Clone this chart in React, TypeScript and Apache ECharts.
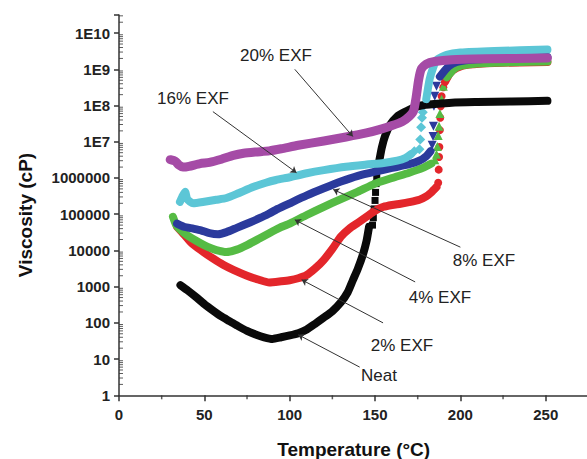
import React, { useEffect, useRef } from "react";
import * as echarts from "echarts";

type P = [number, number];

const xTickValues = [0, 50, 100, 150, 200, 250];
const xMinorTickValues = [25, 75, 125, 175, 225, 275];
const yDecadeLabels = ["1", "10", "100", "1000", "10000", "100000", "1000000", "1E7", "1E8", "1E9", "1E10"];
const yMinorMultipliers = [2, 3, 4, 5, 6, 7, 8, 9];

// Neat (black squares)
const neatLow: P[] = [[36,1100],[40,800],[45,520],[50,330],[55,220],[60,150],[65,110],[70,80],[75,60],[80,48],[85,40],[90,36],[95,40],[100,45],[105,52],[110,66],[115,95],[120,140],[125,210],[130,370],[134,700],[137,1500],[140,3200],[143,8000],[145,18000],[146.5,45000]];
const neatJump: P[] = [[148.5,5e4],[149,8e4],[149.5,1.4e5],[150,2.4e5],[150.3,4e5],[150.6,7e5],[151,1.1e6]];
const neatHigh: P[] = [[151.5,1.6e6],[152.5,3e6],[154,7e6],[156,1.5e7],[159,3e7],[163,5e7],[167,6.5e7],[172,8.5e7],[177,1e8],[185,1.1e8],[195,1.2e8],[210,1.25e8],[230,1.3e8],[251,1.35e8]];

// 2% EXF (red circles)
const exf2Low: P[] = [[34,45000],[38,28000],[42,17000],[47.5,10500],[55,6000],[61,4000],[67,2900],[75,2000],[82,1550],[88,1300],[95,1400],[100,1500],[105,1700],[110,2100],[115,3200],[120,5500],[125,11000],[130,24000],[135,40000],[140,58000],[145,85000],[150,125000],[155,160000],[160,180000],[165,195000],[170,215000],[176,250000],[180,310000],[183,400000],[186,560000]];
const exf2Jump: P[] = [[187,7.4e5],[187.3,1.7e6],[187.5,3.8e6],[187.7,7.2e6],[188,2.1e7],[188.2,4.6e7],[188.5,9.5e7],[189,1.8e8],[190,3.2e8]];
const exf2High: P[] = [[191,4.5e8],[194,8e8],[198,1.1e9],[205,1.35e9],[220,1.5e9],[251,1.6e9]];

// 4% EXF (green triangles)
const exf4Low: P[] = [[31.6,85000],[33.5,50000],[36,37000],[40,26000],[47.5,16000],[52,12500],[57,10200],[63,9000],[69,10500],[75,14000],[82,21000],[88,30000],[94,42000],[100,55000],[110,95000],[120,160000],[130,260000],[140,420000],[150,700000],[160,1.0e6],[170,1.4e6],[178,1.9e6],[183,2.5e6]];
const exf4Jump: P[] = [[185,3.2e6],[186,4.5e6],[186.5,7.4e6],[187,1.5e7],[187.5,2.7e7],[188,6e7],[189,1.5e8],[190,3.4e8]];
const exf4High: P[] = [[192,6e8],[196,1e9],[200,1.25e9],[210,1.45e9],[230,1.58e9],[251,1.65e9]];

// 8% EXF (blue inverted triangles)
const exf8Low: P[] = [[34,55000],[38,45000],[43.5,40000],[48,36000],[53,30000],[58,28000],[63,32000],[69,42000],[77,60000],[83,80000],[88,105000],[93,140000],[100,200000],[110,330000],[120,520000],[130,800000],[140,1.15e6],[150,1.5e6],[160,1.9e6],[170,2.4e6],[176,3e6],[180,4e6],[182.5,5.5e6]];
const exf8Jump: P[] = [[183.5,8e6],[184,1.4e7],[184.2,2.7e7],[184.5,9.5e7],[185,1.8e8],[186,3.4e8]];
const exf8High: P[] = [[188,6.3e8],[193,1.2e9],[198,1.6e9],[210,1.9e9],[230,2.05e9],[251,2.2e9]];

// 16% EXF (cyan diamonds)
const exf16Low: P[] = [[35.7,2.2e5],[37,3e5],[38.7,4.2e5],[40,2.6e5],[43.5,2e5],[50,2.2e5],[57,2.5e5],[63,2.8e5],[70,3.8e5],[78.5,5.6e5],[86,7.4e5],[92,8.8e5],[100,1.05e6],[110,1.35e6],[120,1.65e6],[133,2.05e6],[145,2.35e6],[155,2.6e6],[163,3e6],[168,3.6e6],[171,4.5e6]];
const exf16Jump: P[] = [[173,5.5e6],[176,6.2e6],[176.5,1.15e7],[177,2.5e7],[177.5,4.6e7],[178,6.5e7]];
const exf16High: P[] = [[180,1.5e8],[182,5.4e8],[184,1.1e9],[186,1.8e9],[192,2.5e9],[200,2.9e9],[220,3.2e9],[251,3.5e9]];

// 20% EXF (magenta)
const exf20: P[] = [[30,3.2e6],[33,2.9e6],[35,2.3e6],[37.5,2e6],[41,2.1e6],[47.5,2.5e6],[53,2.7e6],[60,3.3e6],[67,4.2e6],[73,4.8e6],[80,5.2e6],[88,5.6e6],[95,6.4e6],[105,8e6],[120,1.05e7],[133,1.35e7],[145,1.75e7],[153,2.2e7],[160,2.8e7],[166,3.6e7],[170,5e7],[172.5,7e7],[174,1.6e8],[175.5,5e8],[177,1e9],[180,1.4e9],[185,1.65e9],[195,1.85e9],[215,1.95e9],[251,2.05e9]];

// annotation arrows: label, arrow start, arrow end (data coords), label position (px)
const arrowLabels = ["20% EXF", "16% EXF", "8% EXF", "4% EXF", "2% EXF", "Neat"];
const arrowFrom: P[] = [[103,1e9],[55,6.8e7],[200,1.23e4],[173.5,1350],[154.7,100],[141,6]];
const arrowTo: P[] = [[137,1.4e7],[104,1.4e6],[125.5,4.8e5],[103,7e4],[107,1550],[105,47]];
const labelPos: P[] = [[276,55],[193,98],[484,260],[440,297],[402,345],[379,375]];

const FONT = "'Liberation Sans', Arial, Helvetica, sans-serif";
const Y_MAX = Math.pow(10, 10.5);

const COLORS = {
  neat: "#0a0a0a",
  red: "#e3262b",
  green: "#55bb44",
  blue: "#2b3a9c",
  cyan: "#5cc6d6",
  magenta: "#a54ba6",
};

function lineSeries(name: string, data: P[], color: string, width = 8) {
  return {
    name,
    type: "line",
    data,
    symbol: "none",
    showSymbol: false,
    smooth: 0.2,
    lineStyle: { color, width, cap: "round", join: "round" },
    itemStyle: { color },
    silent: true,
  };
}

function scatterSeries(name: string, data: P[], color: string, symbol: string, size: number) {
  return {
    name,
    type: "scatter",
    data,
    symbol,
    symbolSize: size,
    itemStyle: { color, opacity: 1 },
    silent: true,
  };
}

export default function App() {
  const ref = useRef<HTMLDivElement>(null);

  useEffect(() => {
    if (!ref.current) return;
    document.body.style.margin = "0";
    const chart = echarts.init(ref.current, undefined, { renderer: "svg" });

    const yMinorData: P[] = [];
    for (let k = 0; k <= 10; k++) {
      for (const m of yMinorMultipliers) {
        const v = m * Math.pow(10, k);
        if (v < Y_MAX) yMinorData.push([0, v]);
      }
    }
    const xMinorData: P[] = xMinorTickValues.map((x) => [x, 1] as P);

    const markLineData = arrowFrom.map((f, i) => [
      { coord: f, symbol: "none" },
      { coord: arrowTo[i], symbol: "arrow" },
    ]);

    const option: any = {
      animation: false,
      grid: { left: 119, top: 15, width: 469.4, height: 380.3, outerBoundsMode: "none", containLabel: false },
      xAxis: {
        type: "value",
        min: 0,
        max: 275,
        interval: 50,
        name: "Temperature (°C)",
        nameLocation: "middle",
        nameGap: 45,
        nameTextStyle: { fontFamily: FONT, fontSize: 19, fontWeight: "bold", color: "#111" },
        axisLine: { show: true, lineStyle: { color: "#333", width: 1.5 } },
        axisTick: { show: true, inside: false, length: 6, lineStyle: { color: "#333", width: 1.5 } },
        axisLabel: {
          margin: 12,
          fontFamily: FONT,
          fontSize: 15,
          fontWeight: "bold",
          color: "#222",
          formatter: (v: number) => (xTickValues.indexOf(v) >= 0 ? String(v) : ""),
        },
        splitLine: { show: false },
      },
      yAxis: {
        type: "log",
        logBase: 10,
        min: 1,
        max: Y_MAX,
        interval: 1,
        axisLine: { show: true, lineStyle: { color: "#333", width: 1.5 } },
        axisTick: { show: true, inside: false, length: 5, lineStyle: { color: "#333", width: 1.5 } },
        axisLabel: {
          margin: 9,
          fontFamily: FONT,
          fontSize: 15,
          fontWeight: "bold",
          color: "#222",
          formatter: (v: number) => {
            const l = Math.log10(v);
            const k = Math.round(l);
            if (Math.abs(l - k) > 1e-6 || k < 0 || k >= yDecadeLabels.length) return "";
            return yDecadeLabels[k];
          },
        },
        splitLine: { show: false },
      },
      graphic: [
        {
          type: "text",
          x: 25,
          y: 215,
          rotation: Math.PI / 2,
          style: {
            text: "Viscosity (cP)",
            fontFamily: FONT,
            fontSize: 19,
            fontWeight: "bold",
            fill: "#111",
            textAlign: "center",
            textVerticalAlign: "middle",
          },
        },
        ...arrowLabels.map((t, i) => ({
          type: "text",
          x: labelPos[i][0],
          y: labelPos[i][1],
          style: {
            text: t,
            fontFamily: FONT,
            fontSize: 17,
            fill: "#222",
            textAlign: "center",
            textVerticalAlign: "middle",
          },
        })),
      ],
      series: [
        {
          name: "yMinorTicks",
          type: "scatter",
          data: yMinorData,
          symbol: "rect",
          symbolSize: [4, 1],
          symbolOffset: [2, 0],
          clip: false,
          silent: true,
          itemStyle: { color: "#333" },
        },
        {
          name: "xMinorTicks",
          type: "scatter",
          data: xMinorData,
          symbol: "rect",
          symbolSize: [1.5, 4],
          symbolOffset: [0, 2],
          clip: false,
          silent: true,
          itemStyle: { color: "#333" },
        },
        lineSeries("Neat", neatLow, COLORS.neat),
        scatterSeries("Neat", neatJump, COLORS.neat, "rect", 7),
        lineSeries("Neat", neatHigh, COLORS.neat),
        lineSeries("2% EXF", exf2Low, COLORS.red),
        scatterSeries("2% EXF", exf2Jump, COLORS.red, "circle", 8),
        lineSeries("2% EXF", exf2High, COLORS.red),
        lineSeries("4% EXF", exf4Low, COLORS.green),
        scatterSeries("4% EXF", exf4Jump, COLORS.green, "triangle", 9),
        lineSeries("4% EXF", exf4High, COLORS.green),
        lineSeries("8% EXF", exf8Low, COLORS.blue),
        scatterSeries("8% EXF", exf8Jump, COLORS.blue, "path://M0,0L10,0L5,9Z", 9),
        lineSeries("8% EXF", exf8High, COLORS.blue),
        lineSeries("16% EXF", exf16Low, COLORS.cyan),
        scatterSeries("16% EXF", exf16Jump, COLORS.cyan, "diamond", 10),
        lineSeries("16% EXF", exf16High, COLORS.cyan),
        {
          ...lineSeries("20% EXF", exf20, COLORS.magenta, 9),
          markLine: {
            silent: true,
            symbol: ["none", "arrow"],
            symbolSize: 6,
            label: { show: false },
            lineStyle: { color: "#333", width: 1, type: "solid" },
            emphasis: { disabled: true },
            data: markLineData,
          },
        },
      ],
    };

    chart.setOption(option);
    return () => chart.dispose();
  }, []);

  return <div ref={ref} style={{ width: 587, height: 459 }} />;
}
